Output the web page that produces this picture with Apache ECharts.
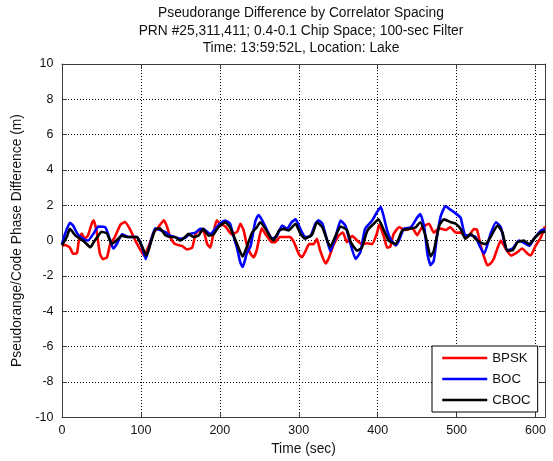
<!DOCTYPE html>
<html>
<head>
<meta charset="utf-8">
<script src="https://cdn.jsdelivr.net/npm/echarts@6/dist/echarts.min.js"></script>
<style>
  html, body { margin: 0; padding: 0; background: #fff; }
  #chart { width: 553px; height: 461px; }
</style>
</head>
<body>
<div id="chart"></div>
<script>
// Filtered pseudorange / code phase differences (m) per signal type, sampled over time (sec)
const bpskTime  = [0,4,10,14,19,21,25,29,33,38,40,44,48,52,57,61,67,74,80,86,93,99,104,110,116,122,129,133,137,143,152,158,165,169,173,179,184,188,192,196,200,207,215,222,226,230,234,239,243,247,253,258,266,270,276,283,289,294,300,304,308,313,319,323,327,334,338,344,351,356,361,364,368,374,380,387,393,399,402,408,412,416,420,427,435,444,450,456,465,471,478,486,492,499,505,514,522,526,530,535,539,543,547,552,556,562,569,577,583,590,594,600,607,612];
const bpskValue = [-0.3,-0.25,-0.4,-0.75,-0.7,-0.1,0.4,0.1,0.3,1.0,1.15,0.5,-0.75,-1.05,-0.95,-0.2,0.2,0.9,1.05,0.65,0.0,-0.5,-0.85,-0.3,0.45,0.75,1.15,0.8,0.2,-0.2,-0.3,-0.5,-0.4,0.35,0.55,0.55,-0.2,-0.4,0.45,1.15,0.95,0.8,0.35,0.5,0.95,0.6,-0.2,-0.75,-0.95,-0.5,0.7,0.35,-0.1,-0.1,0.2,0.2,0.2,-0.1,-0.75,-0.95,-0.65,-0.2,-0.2,0.1,-0.55,-1.3,-1.0,-0.25,0.3,0.45,-0.1,0.1,0.25,0.0,-0.2,-0.15,-0.2,0.4,0.9,0.2,-0.4,-0.35,0.35,0.75,0.6,0.7,0.3,0.75,0.95,0.45,0.7,0.6,0.75,0.45,0.45,0.2,0.65,0.6,-0.2,-0.95,-1.4,-1.3,-1.05,-0.4,0.0,-0.45,-0.85,-0.65,-0.45,-0.75,-0.85,-0.3,0.2,0.8];

const bocTime  = [0,4,10,14,20,27,33,40,46,55,60,65,70,76,84,95,101,106,111,118,124,131,137,143,150,156,162,169,175,181,188,194,200,207,213,217,222,226,229,234,239,245,249,253,260,266,272,279,285,291,296,302,308,315,321,325,330,336,340,346,353,359,365,372,378,384,393,399,404,408,412,416,423,427,433,442,450,454,459,463,467,471,475,480,486,492,497,505,511,518,524,530,535,543,550,556,564,571,579,588,592,598,607,612];
const bocValue = [-0.2,0.4,1.0,0.85,0.35,0.1,0.0,0.4,0.8,0.75,0.15,-0.45,-0.15,0.35,0.2,0.2,-0.3,-1.05,-0.3,0.7,0.6,0.47,0.28,0.2,0.1,0.15,0.38,0.45,0.66,0.6,0.35,0.66,0.95,1.13,0.95,0.3,-0.47,-1.25,-1.5,-0.75,-0.3,1.1,1.45,1.2,0.57,0.1,0.25,0.85,0.66,1.04,1.2,0.66,0.2,0.25,0.95,1.15,0.95,0.0,-0.6,0.1,1.13,0.85,-0.1,-1.04,-0.66,0.66,1.13,1.6,1.9,1.3,0.57,0.1,-0.28,0.0,0.66,0.75,1.3,1.5,0.75,-0.75,-1.4,-1.15,0.2,1.4,1.95,1.75,1.6,1.3,0.3,0.3,0.2,-0.38,-0.75,0.38,1.04,0.75,-0.57,-0.45,0.0,-0.2,-0.3,0.1,0.57,0.65];

const cbocTime  = [0,6,10,17,23,29,36,40,46,50,57,63,69,76,82,89,95,101,107,112,118,124,131,137,143,150,156,160,167,173,179,186,192,198,207,213,220,226,229,234,241,247,251,258,264,268,275,281,287,296,302,308,317,323,330,336,340,346,353,361,366,374,380,387,395,401,408,414,423,431,439,448,454,461,467,471,478,484,492,499,505,511,518,524,530,537,543,552,558,564,571,577,585,592,600,607,612];
const cbocValue = [-0.28,0.2,0.66,0.28,0.1,-0.1,-0.38,-0.1,0.28,0.5,0.4,-0.2,0.0,0.28,0.2,0.2,0.2,-0.3,-0.85,-0.2,0.6,0.7,0.3,0.2,0.2,0.0,0.2,0.38,0.2,0.28,0.66,0.28,0.35,0.75,1.04,0.75,0.0,-0.66,-0.9,-0.38,0.47,0.75,1.04,0.66,0.2,0.0,0.57,0.66,0.57,0.95,0.38,0.1,0.35,1.04,0.75,0.0,-0.35,0.2,0.8,0.6,-0.1,-0.57,-0.4,0.57,0.95,1.2,0.57,0.0,-0.2,0.57,0.66,0.75,1.04,0.2,-0.9,-0.6,0.85,1.2,1.05,0.95,0.66,0.1,0.38,0.1,-0.1,-0.2,0.2,0.85,0.47,-0.57,-0.55,-0.1,0.0,-0.2,0.2,0.47,0.5];

const seriesNames = ['BPSK', 'BOC', 'CBOC'];
const seriesColors = ['#ff0000', '#0000ff', '#000000'];
const titleLines = [
  'Pseudorange Difference by Correlator Spacing',
  'PRN #25,311,411; 0.4-0.1 Chip Space; 100-sec Filter',
  'Time: 13:59:52L, Location: Lake'
];
const xLabel = 'Time (sec)';
const yLabel = 'Pseudorange/Code Phase Difference (m)';

const FONT = '"Liberation Sans", Arial, Helvetica, sans-serif';
const TICK_SIZE = 12.5;
const LABEL_SIZE = 13.8;

function pairs(ts, vs) {
  return ts.map((t, i) => [t, vs[i]]);
}

const chart = echarts.init(document.getElementById('chart'), null, { renderer: 'canvas' });

const frameColor = '#3c3c3c';
const textColor = '#111';
const gridDots = { show: true, lineStyle: { color: '#000', width: 1, type: [1, 2] } };
const frameLine = { show: true, onZero: false, lineStyle: { color: frameColor, width: 1 } };
const innerTicks = { show: true, inside: true, length: 5, lineStyle: { color: frameColor } };

const option = {
  animation: false,
  backgroundColor: '#fff',
  textStyle: { fontFamily: FONT },
  title: {
    text: titleLines.join('\n'),
    left: 301,
    top: 4.5,
    padding: 0,
    textAlign: 'center',
    textStyle: { fontFamily: FONT, fontSize: LABEL_SIZE, fontWeight: 'normal', color: textColor, lineHeight: 17.5 }
  },
  grid: { left: 62, right: 8, top: 64, bottom: 41.5, containLabel: false, show: false },
  legend: {
    data: seriesNames,
    orient: 'vertical',
    left: 432,
    top: 346,
    padding: [5, 7, 5, 9],
    itemWidth: 45,
    itemHeight: 14,
    itemGap: 7,
    backgroundColor: '#fff',
    borderColor: '#000',
    borderWidth: 1,
    itemStyle: { opacity: 0 },
    lineStyle: { width: 2.5 },
    textStyle: { fontFamily: FONT, fontSize: 13.3, lineHeight: 14, color: textColor }
  },
  xAxis: [
    {
      type: 'value', min: 0, max: 612, interval: 100,
      name: xLabel, nameLocation: 'middle', nameGap: 23,
      nameTextStyle: { fontFamily: FONT, fontSize: LABEL_SIZE, color: textColor },
      axisLine: frameLine,
      axisTick: innerTicks,
      axisLabel: { fontFamily: FONT, fontSize: TICK_SIZE, color: textColor, margin: 7, showMaxLabel: false },
      splitLine: gridDots
    },
    {
      type: 'value', min: 0, max: 612, interval: 100, position: 'top',
      axisLine: frameLine,
      axisTick: innerTicks,
      axisLabel: { show: false },
      splitLine: { show: false }
    }
  ],
  yAxis: [
    {
      type: 'value', min: -10, max: 10, interval: 2,
      name: yLabel, nameLocation: 'middle', nameGap: 33.5, nameRotate: 90,
      nameTextStyle: { fontFamily: FONT, fontSize: LABEL_SIZE, color: textColor },
      axisLine: frameLine,
      axisTick: innerTicks,
      axisLabel: { fontFamily: FONT, fontSize: TICK_SIZE, color: textColor, margin: 8.5 },
      splitLine: gridDots
    },
    {
      type: 'value', min: -10, max: 10, interval: 2, position: 'right',
      axisLine: frameLine,
      axisTick: innerTicks,
      axisLabel: { show: false },
      splitLine: { show: false }
    }
  ],
  series: [
    { name: seriesNames[0], data: pairs(bpskTime, bpskValue) },
    { name: seriesNames[1], data: pairs(bocTime, bocValue) },
    { name: seriesNames[2], data: pairs(cbocTime, cbocValue) }
  ].map((s, i) => Object.assign({
    type: 'line',
    xAxisIndex: 0,
    yAxisIndex: 0,
    symbol: 'none',
    smooth: 0.15,
    color: seriesColors[i],
    lineStyle: { color: seriesColors[i], width: 2.6 },
    z: 2 + i
  }, s))
};

chart.setOption(option);
</script>
</body>
</html>
